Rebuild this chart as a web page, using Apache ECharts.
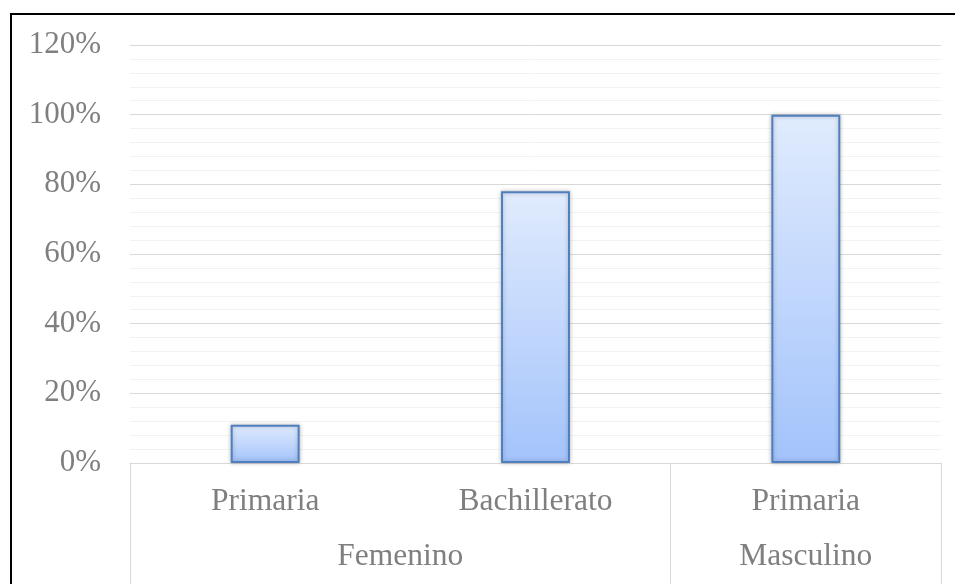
<!DOCTYPE html>
<html>
<head>
<meta charset="utf-8">
<script src="https://cdn.jsdelivr.net/npm/echarts@6/dist/echarts.min.js"></script>
<style>
  html, body { margin: 0; padding: 0; background: #fff; }
  #chart { width: 955px; height: 584px; }
</style>
</head>
<body>
<div id="chart"></div>
<script>
// Education level per sex (share of respondents)
const levels = ['Primaria', 'Bachillerato', 'Primaria'];
const values = [0.11, 0.78, 1.00];
// Outer grouping: each group spans a number of level categories
const groups = ['Femenino', 'Masculino'];
const groupSpans = [2, 1];
const yTicks = [0, 0.2, 0.4, 0.6, 0.8, 1.0, 1.2];

// Group boundaries and centres on a 0..levels.length scale
const bounds = [0];
groupSpans.forEach(s => bounds.push(bounds[bounds.length - 1] + s));
const centres = groups.map((g, i) => (bounds[i] + bounds[i + 1]) / 2);

const textColor = '#7f7f7f';
const font = 'Liberation Serif, Times New Roman, serif';

const chart = echarts.init(document.getElementById('chart'));
chart.setOption({
  backgroundColor: '#ffffff',
  animation: false,
  grid: { left: 130, right: 14, top: 45, bottom: 121 },
  graphic: [{
    type: 'rect',
    shape: { x: 11, y: 14, width: 980, height: 620 },
    style: { fill: 'none', stroke: '#000', lineWidth: 2 },
    z: 100
  }],
  xAxis: [{
    type: 'category',
    data: levels,
    axisLine: { lineStyle: { color: '#d9d9d9', width: 1 } },
    axisTick: { show: false },
    axisLabel: { color: textColor, fontFamily: font, fontSize: 31.5, margin: 23 },
    splitLine: { show: false }
  }, {
    type: 'value',
    position: 'bottom',
    min: 0,
    max: levels.length,
    axisLine: { show: false },
    splitLine: { show: false },
    axisTick: {
      show: true,
      customValues: bounds,
      length: 125,
      lineStyle: { color: '#d9d9d9', width: 1 }
    },
    axisLabel: {
      customValues: centres,
      color: textColor,
      fontFamily: font,
      fontSize: 31.5,
      margin: 78,
      formatter: v => {
        const i = centres.findIndex(c => Math.abs(c - v) < 1e-6);
        return i >= 0 ? groups[i] : '';
      }
    }
  }],
  yAxis: {
    type: 'value',
    min: yTicks[0],
    max: yTicks[yTicks.length - 1],
    interval: 0.2,
    axisLine: { show: false },
    axisTick: { show: false },
    axisLabel: {
      color: textColor, fontFamily: font, fontSize: 31, margin: 29,
      formatter: v => Math.round(v * 100) + '%'
    },
    splitLine: { lineStyle: { color: '#d9d9d9', width: 1 } },
    minorTick: { show: false, splitNumber: 5 },
    minorSplitLine: { show: true, lineStyle: { color: '#f2f2f2', width: 1 } }
  },
  series: [{
    type: 'bar',
    data: values,
    barWidth: '25.5%',
    itemStyle: {
      color: new echarts.graphic.LinearGradient(0, 0, 0, 1, [
        { offset: 0, color: '#e0ebfd' },
        { offset: 1, color: '#a3c3fb' }
      ]),
      borderColor: '#4f7fbf',
      borderWidth: 2,
      shadowBlur: 4,
      shadowColor: 'rgba(0,0,0,0.25)',
      shadowOffsetX: 0,
      shadowOffsetY: 0
    }
  }]
});
</script>
</body>
</html>
